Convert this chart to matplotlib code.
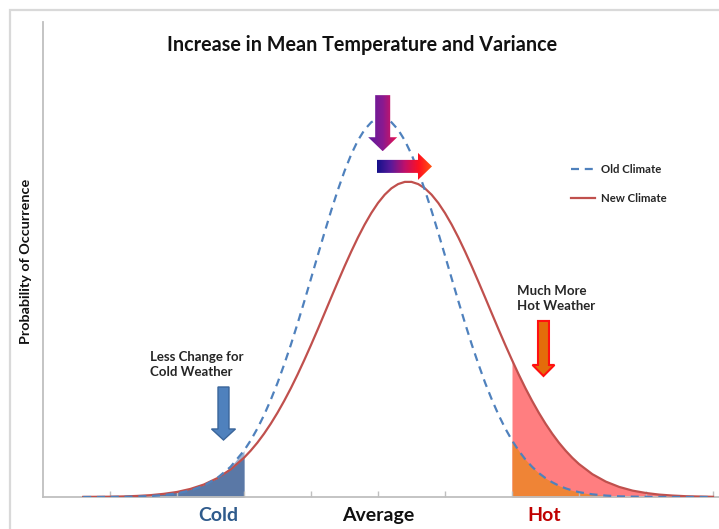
import numpy as np
import matplotlib
matplotlib.use('Agg')
from matplotlib import pyplot as plt
from matplotlib.patches import Polygon, Rectangle
from matplotlib.colors import LinearSegmentedColormap

plt.rcParams['font.family'] = ['Lato', 'DejaVu Sans']

# temperature axis (arbitrary units) and the two curves
temp = [0.6, 0.8, 1.0, 1.2, 1.4, 1.6, 1.8, 2.0, 2.2, 2.4, 2.6, 2.8,
        3.0, 3.1, 3.2, 3.3, 3.4, 3.5, 3.6, 3.7, 3.8, 3.9,
        4.0, 4.1, 4.2, 4.3, 4.4, 4.5, 4.6, 4.7, 4.8, 4.9,
        5.0, 5.1, 5.2, 5.3, 5.4, 5.5, 5.6, 5.7, 5.8, 5.9,
        6.0, 6.1, 6.2, 6.3, 6.4, 6.5, 6.6, 6.7, 6.8, 6.9,
        7.0, 7.1, 7.2, 7.3, 7.4, 7.5, 7.6, 7.7, 7.8, 7.9,
        8.0, 8.2, 8.4, 8.6, 8.8, 9.0, 9.2, 9.4, 9.6, 9.8, 10.0]
old_climate = [0.0000, 0.0000, 0.0001, 0.0002, 0.0005, 0.0010, 0.0020, 0.0038, 0.0069, 0.0119, 0.0199, 0.0318,
               0.0488, 0.0596, 0.0721, 0.0863, 0.1024, 0.1200, 0.1396, 0.1604, 0.1827, 0.2060,
               0.2299, 0.2541, 0.2780, 0.3012, 0.3230, 0.3430, 0.3606, 0.3753, 0.3867, 0.3945,
               0.3985, 0.3985, 0.3945, 0.3867, 0.3753, 0.3606, 0.3430, 0.3230, 0.3012, 0.2780,
               0.2541, 0.2299, 0.2060, 0.1827, 0.1604, 0.1396, 0.1200, 0.1024, 0.0863, 0.0721,
               0.0596, 0.0488, 0.0395, 0.0318, 0.0252, 0.0199, 0.0155, 0.0119, 0.0091, 0.0069,
               0.0051, 0.0028, 0.0015, 0.0007, 0.0004, 0.0002, 0.0001, 0.0000, 0.0000, 0.0000, 0.0000]
new_climate = [0.0001, 0.0002, 0.0003, 0.0006, 0.0011, 0.0019, 0.0033, 0.0053, 0.0085, 0.0131, 0.0198, 0.0290,
               0.0413, 0.0488, 0.0572, 0.0667, 0.0772, 0.0887, 0.1012, 0.1146, 0.1290, 0.1442,
               0.1600, 0.1763, 0.1930, 0.2098, 0.2264, 0.2427, 0.2583, 0.2731, 0.2867, 0.2989,
               0.3095, 0.3182, 0.3249, 0.3294, 0.3317, 0.3317, 0.3294, 0.3249, 0.3182, 0.3095,
               0.2989, 0.2867, 0.2731, 0.2583, 0.2427, 0.2264, 0.2098, 0.1930, 0.1763, 0.1600,
               0.1442, 0.1290, 0.1146, 0.1012, 0.0887, 0.0772, 0.0667, 0.0572, 0.0488, 0.0413,
               0.0347, 0.0240, 0.0162, 0.0106, 0.0067, 0.0042, 0.0025, 0.0015, 0.0008, 0.0005, 0.0002]
cold_limit = 3.0
hot_limit = 7.0
category_pos = [2.61, 5.01, 7.48]
category_labels = ['Cold', 'Average', 'Hot']
category_colors = ['#2f5b8c', '#111111', '#c00000']

t = np.array(temp)
old = np.array(old_climate)
new = np.array(new_climate)

fig = plt.figure(figsize=(7.19, 5.29), dpi=100)
fig.patches.append(Rectangle((10/719, -0.1), 1.2, 1.1 - 10/529, transform=fig.transFigure,
                             fill=False, edgecolor='#d9d9d9', lw=1.6))
ax = fig.add_axes([43/719, 1-497/529, 676/719, 475/529])

# shaded tails
cold = t <= cold_limit
ax.fill_between(t[cold], 0, old[cold], color='#9db3d2', lw=0, zorder=1)
ax.fill_between(t[cold], 0, new[cold], color='#5a78a6', lw=0, zorder=1.1)
hot = t >= hot_limit
ax.fill_between(t[hot], 0, new[hot], color='#ff7e80', lw=0, zorder=1)
ax.fill_between(t[hot], 0, old[hot], color='#ef8436', lw=0, zorder=1.1)

ax.plot(t, new, color='#c0504d', lw=1.6, label='New Climate', zorder=3)
ax.plot(t, old, color='#4f81bd', lw=1.6, dashes=(3.6, 2.6), label='Old Climate', zorder=4)

ax.set_xticks(range(1, 11))
ax.set_xticklabels([])
ax.set_yticks([])
ax.tick_params(axis='x', direction='in', length=4, color='#bfbfbf', width=1)
for s in ['top', 'right']:
    ax.spines[s].set_visible(False)
for s in ['left', 'bottom']:
    ax.spines[s].set_color('#bfbfbf')
    ax.spines[s].set_linewidth(1.3)

h, l = ax.get_legend_handles_labels()
leg = ax.legend(h[::-1], l[::-1], loc='upper left', bbox_to_anchor=(518/676, (497-154)/475),
                frameon=False, handlelength=2.1, handletextpad=0.55,
                labelspacing=1.55, prop={'weight': 'bold', 'size': 8.2})
for txt in leg.get_texts():
    txt.set_color('#262626')

fig.text(362/719, 1-45/529, 'Increase in Mean Temperature and Variance', ha='center', va='center',
         fontsize=14.2, fontweight='bold', color='#111111')
fig.text(26/719, 1-261/529, 'Probability of Occurrence', rotation=90, ha='center', va='center',
         fontsize=10.4, fontweight='bold', color='#111111')

for p, lab, c in zip(category_pos, category_labels, category_colors):
    ax.text(p, -0.0195, lab, ha='center', va='center', fontsize=14, fontweight='bold',
            color=c, clip_on=False)

ax.text(1.60, 0.1395, 'Less Change for\nCold Weather', ha='left', va='center', fontsize=9.5,
        fontweight='bold', color='#262626', linespacing=1.25)
ax.text(7.07, 0.209, 'Much More\nHot Weather', ha='left', va='center', fontsize=9.5,
        fontweight='bold', color='#262626', linespacing=1.25)


def down_arrow(xc, ytop, ytip, sw, hw, hl):
    return [(xc-sw/2, ytop), (xc+sw/2, ytop), (xc+sw/2, ytip+hl), (xc+hw/2, ytip+hl),
            (xc, ytip), (xc-hw/2, ytip+hl), (xc-sw/2, ytip+hl)]


def right_arrow(yc, xl, xtip, sh, hh, hl):
    return [(xl, yc-sh/2), (xtip-hl, yc-sh/2), (xtip-hl, yc-hh/2), (xtip, yc),
            (xtip-hl, yc+hh/2), (xtip-hl, yc+sh/2), (xl, yc+sh/2)]


def grad_arrow(verts, colors):
    poly = Polygon(verts, closed=True, facecolor='none', edgecolor='none')
    ax.add_patch(poly)
    xs = [v[0] for v in verts]
    ys = [v[1] for v in verts]
    cmap = LinearSegmentedColormap.from_list('g', colors)
    im = ax.imshow(np.linspace(0, 1, 256).reshape(1, -1), cmap=cmap, aspect='auto',
                   extent=[min(xs), max(xs), min(ys), max(ys)], zorder=5, origin='lower')
    im.set_clip_path(poly)


grad_arrow(down_arrow(5.07, 0.423, 0.364, 0.224, 0.433, 0.0147), ['#5c1a9c', '#8a1a90', '#f0104a'])
grad_arrow(right_arrow(0.348, 4.985, 5.806, 0.0137, 0.0284, 0.209),
           ['#14108a', '#5a1a9a', '#c0106a', '#ff1020', '#ff5a10'])

ax.add_patch(Polygon(down_arrow(2.694, 0.1158, 0.060, 0.164, 0.358, 0.0116), closed=True,
                     facecolor='#4f81bd', edgecolor='#3a659a', lw=1, zorder=5))
ax.add_patch(Polygon(down_arrow(7.47, 0.1853, 0.1274, 0.164, 0.328, 0.0116), closed=True,
                     facecolor='#e46c0a', edgecolor='#ff1010', lw=1.5, zorder=5))

ax.set_xlim(0, 676/67)
ax.set_ylim(0, 0.5)

fig.savefig('out.png', dpi=100)
